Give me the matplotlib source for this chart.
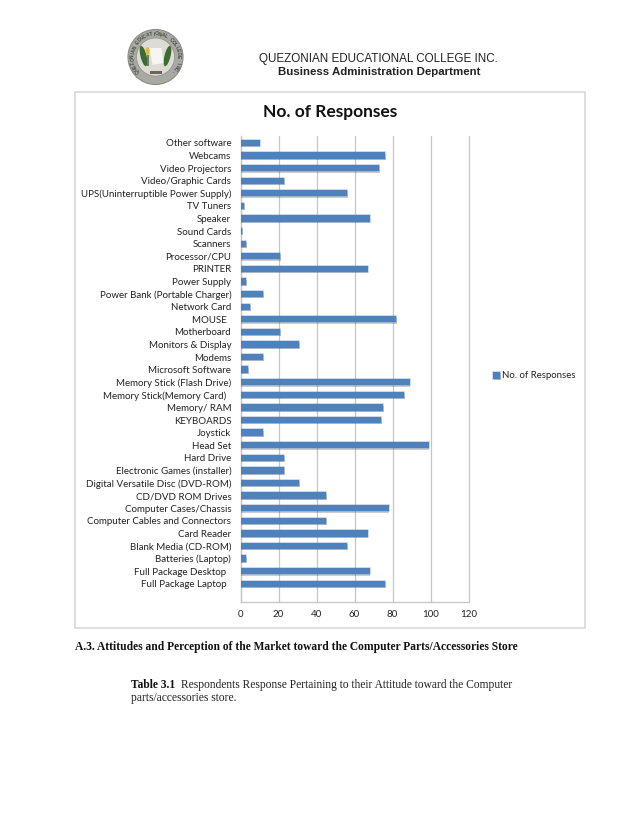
import math
import matplotlib
matplotlib.use("Agg")
import matplotlib.pyplot as plt
import matplotlib.patheffects as pe
from matplotlib.patches import Rectangle, Circle, Ellipse, Polygon

categories = ["Other software", "Webcams", "Video Projectors", "Video/Graphic Cards",
              "UPS(Uninterruptible Power Supply)", "TV Tuners", "Speaker", "Sound Cards",
              "Scanners", "Processor/CPU", "PRINTER", "Power Supply",
              "Power Bank (Portable Charger)", "Network Card", "MOUSE  ", "Motherboard",
              "Monitors & Display", "Modems", "Microsoft Software", "Memory Stick (Flash Drive)",
              "Memory Stick(Memory Card)  ", "Memory/ RAM", "KEYBOARDS", "Joystick", "Head Set",
              "Hard Drive", "Electronic Games (installer)", "Digital Versatile Disc (DVD-ROM)",
              "CD/DVD ROM Drives", "Computer Cases/Chassis", "Computer Cables and Connectors",
              "Card Reader", "Blank Media (CD-ROM)", "Batteries (Laptop)",
              "Full Package Desktop  ", "Full Package Laptop  "]
responses = [10, 76, 73, 23, 56, 2, 68, 1, 3, 21, 67, 3, 12, 5, 82, 21, 31, 12, 4, 89,
             86, 75, 74, 12, 99, 23, 23, 31, 45, 78, 45, 67, 56, 3, 68, 76]
xticks = [0, 20, 40, 60, 80, 100, 120]

W, H = 638, 826
BLUE = "#4f81bd"
GRID = "#c6c6c6"

plt.rcParams['font.family'] = ['Lato', 'DejaVu Sans']

fig = plt.figure(figsize=(W / 100, H / 100), dpi=100, facecolor="white")


def px_axes(x0, y0, x1, y1):
    return fig.add_axes([x0 / W, 1 - y1 / H, (x1 - x0) / W, (y1 - y0) / H])


# whole page in pixel coords, for the frame, logo and document text
page = fig.add_axes([0, 0, 1, 1], zorder=0)
page.set_xlim(0, W)
page.set_ylim(H, 0)
page.axis("off")

page.add_patch(Rectangle((75, 92), 510, 536, fc="white", ec="#d4d4d4", lw=1.1))

# logo
cx, cy = 155.5, 57
page.add_patch(Circle((cx, cy), 27.5, fc="#a9a9a3", ec="#8b8b85", lw=0.8))
page.add_patch(Circle((cx, cy), 19, fc="#dcdcd4", ec="#8f8f88", lw=0.5))
page.add_patch(Ellipse((cx - 12, cy - 1), 6, 21, angle=-14, fc="#3e6b34", ec="none"))
page.add_patch(Ellipse((cx + 12, cy - 1), 6, 21, angle=14, fc="#3e6b34", ec="none"))
page.add_patch(Polygon([(cx - 6, cy - 9), (cx + 6, cy - 9), (cx + 8, cy + 6), (cx - 3, cy + 8)],
                       fc="#f6f6f0", ec="none"))
page.add_patch(Ellipse((cx - 8, cy - 6), 4, 8, fc="#e2b93c", ec="none"))
page.add_patch(Rectangle((cx - 9, cy - 2), 2, 11, fc="#77786a", ec="none"))
page.add_patch(Rectangle((cx - 6, cy + 14), 12, 3, fc="#66665f", ec="none"))
seal = "QUEZONIAN EDUCATIONAL COLLEGE INC."
for i, ch in enumerate(seal):
    ang = -128 + i * 256 / (len(seal) - 1)
    rad = math.radians(ang)
    page.text(cx + 23 * math.sin(rad), cy - 23 * math.cos(rad), ch, family="Liberation Sans",
              fontsize=3.4, weight="bold", ha="center", va="center", rotation=-ang,
              rotation_mode="anchor", color="#4a4a46")

page.text(378, 59, "QUEZONIAN EDUCATIONAL COLLEGE INC.", family="Liberation Sans",
          fontsize=8.4, ha="center", va="center", color="#222222")
page.text(379, 72, "Business Administration Department", family="Liberation Sans",
          fontsize=8.25, ha="center", va="center", color="#222222", weight="bold")

page.text(75, 647, "A.3. Attitudes and Perception of the Market toward the Computer Parts/Accessories Store",
          family="Liberation Serif", fontsize=8.3, weight="bold", va="center", color="#111111")
page.text(131, 685, "Table 3.1", family="Liberation Serif", fontsize=8.3, weight="bold",
          va="center", color="#111111")
page.text(181, 685, "Respondents Response Pertaining to their Attitude toward the Computer",
          family="Liberation Serif", fontsize=8.3, va="center", color="#222222")
page.text(131, 698, "parts/accessories store.", family="Liberation Serif", fontsize=8.3,
          va="center", color="#222222")

# chart
ax = px_axes(240.5, 136, 468.5, 602)
ax.set_facecolor("none")
positions = list(range(len(categories)))
bars = ax.barh(positions, responses, height=0.5, color=BLUE, label="No. of Responses", zorder=3)
for b in bars:
    b.set_path_effects([pe.SimplePatchShadow(offset=(0.5, -0.9), shadow_rgbFace="#555555", alpha=0.3),
                        pe.Stroke(linewidth=1.2, foreground=BLUE, alpha=0.35),
                        pe.Normal()])

ax.set_xlim(0, 120)
ax.set_ylim(36.45, -0.55)
ax.set_xticks(xticks)
ax.set_yticks(positions)
ax.set_yticklabels(categories)
ax.grid(axis="x", color=GRID, lw=0.9, zorder=0)
for line in ax.get_xgridlines():
    line.set_clip_on(False)
ax.tick_params(axis="both", length=0, labelsize=7, labelcolor="#222222")
ax.tick_params(axis="y", pad=6.6)
ax.tick_params(axis="x", pad=6)
for name, sp in ax.spines.items():
    sp.set_visible(name in ("left", "bottom"))
    sp.set_color(GRID)
    sp.set_linewidth(0.9)

fig.text(330 / W, 1 - 112 / H, "No. of Responses", fontsize=12.5, weight="bold",
         ha="center", va="center", color="#111111")

ax.legend(loc="center left", bbox_to_anchor=((488.5 - 240.5) / 228, (602 - 376) / 466),
          frameon=False, fontsize=6.9, handlelength=0.7, handleheight=0.7,
          handletextpad=0.2, borderpad=0, labelcolor="#222222")

fig.savefig("out.png", dpi=100, facecolor="white")
